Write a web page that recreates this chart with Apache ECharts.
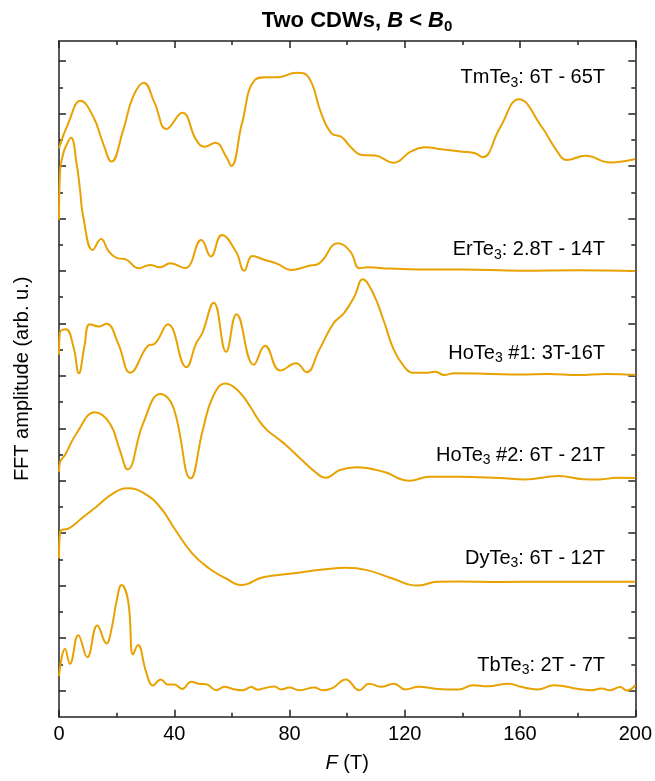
<!DOCTYPE html>
<html><head><meta charset="utf-8">
<script src="https://cdn.jsdelivr.net/npm/echarts@6/dist/echarts.min.js"></script>
<style>html,body{margin:0;padding:0;background:#fff}#c{width:655px;height:781px}</style>
</head><body><div id="c"></div>
<script>
// Frequency F (T) and FFT amplitude (arb. u., relative to each curve's own baseline)
const TmTe3 = [[0,0.68],[3.2,1.63],[7.5,2.49],[11.9,1.88],[15.3,0.87],[18.2,0.17],[22.3,1.38],[25.7,2.65],[29.4,3.18],[33.2,2.40],[37.3,1.41],[42.8,2.03],[47.6,1.0],[50.5,0.74],[54.3,0.89],[58,0.36],[59.8,0.0],[63.5,1.63],[67.9,3.28],[72.2,3.39],[76.2,3.39],[82.3,3.56],[86.6,3.39],[91,2.01],[94.6,1.25],[98.2,1.10],[101.1,0.74],[105.1,0.42],[109.7,0.40],[116.2,0.13],[122,0.55],[127.1,0.72],[132.8,0.64],[140.1,0.55],[144.4,0.49],[147,0.34],[153,1.45],[159.6,2.55],[167.5,1.50],[172.6,0.61],[176.2,0.23],[182.7,0.39],[191.3,0.14],[200,0.27]];
const ErTe3 = [[0,1.95],[0.4,3.85],[1.5,4.49],[2.1,4.68],[4.15,5.08],[6.1,4.1],[7.3,3.09],[8.4,2.07],[11.7,0.80],[14.6,1.22],[17.3,0.74],[20.5,0.48],[23,0.45],[27.6,0.10],[31.6,0.23],[35,0.14],[38.6,0.29],[43.8,0.11],[49.4,1.18],[52.7,0.55],[56.5,1.37],[61.4,0.74],[64.3,0.01],[67.1,0.57],[71.5,0.42],[75.8,0.27],[80.4,0.04],[86.6,0.19],[90.3,0.29],[96.8,1.06],[101.1,0.74],[104.3,0.10],[107,0.14],[115,0.09],[125,0.06],[140,0.06],[160,0.01],[180,0.03],[200,0.0]];
const HoTe3_1 = [[0,0.80],[0.3,1.65],[2.4,1.78],[5,1.11],[6.9,0.10],[8.8,1.11],[10.7,1.97],[13.9,1.88],[16.5,1.99],[20.5,1.24],[24.8,0.12],[30.9,1.15],[33.2,1.22],[37.8,1.97],[44.2,0.33],[47.6,1.24],[49.7,1.62],[53.7,2.79],[58,0.92],[61.6,2.35],[67.6,0.42],[71.5,1.15],[76.8,0.20],[82.3,0.48],[85.9,0.14],[90.3,0.99],[95.3,2.01],[98.9,2.39],[102.5,3.02],[105.4,3.68],[109,3.15],[112.6,2.13],[116.2,0.99],[119.8,0.35],[122.7,0.12],[127.1,0.12],[130.7,0.16],[133.6,0.03],[137.2,0.10],[150,0.07],[160,0.05],[170,0.07],[180,0.03],[190,0.07],[200,0.03]];
const HoTe3_2 = [[0,0.34],[0.4,0.72],[2.1,0.98],[6.1,1.81],[12.5,2.61],[17.6,2.19],[21.1,1.17],[23.8,0.43],[29.2,2.19],[35.2,3.31],[39.6,2.82],[45.7,0.09],[49.9,1.93],[53.4,3.20],[57.8,3.71],[60.6,3.58],[63.5,3.27],[66.4,2.82],[69.3,2.31],[72.2,1.93],[75.8,1.62],[79.4,1.30],[83.7,0.85],[89.5,0.28],[92.4,0.11],[97.5,0.41],[103.2,0.51],[112.6,0.34],[121.7,0.0],[128.5,0.15],[138.6,0.15],[153,0.10],[161.7,0.05],[173.3,0.18],[182,0.06],[187.7,0.05],[193.5,0.11],[200,0.10]];
const DyTe3 = [[0,1.04],[0.4,2.06],[3.6,2.19],[7.9,2.57],[13,3.01],[18.8,3.52],[23.8,3.71],[29.6,3.52],[35.4,2.95],[40.4,2.12],[46.2,1.23],[52,0.66],[57.8,0.28],[63.3,0.02],[70.8,0.32],[80.9,0.46],[92.4,0.62],[99.6,0.68],[106.9,0.59],[115.5,0.28],[124.2,0.0],[131.4,0.15],[138.6,0.16],[153,0.14],[167.5,0.15],[200,0.15]];
const TbTe3 = [[0,0.55],[2.1,1.59],[3.8,1.02],[6.7,2.11],[9.8,1.27],[13.3,2.48],[16.5,1.79],[18.2,2.33],[20,3.41],[21.7,4.02],[24,3.41],[25.7,1.37],[27.4,1.73],[30.3,0.68],[32.6,0.19],[35.3,0.42],[37.8,0.23],[40.1,0.23],[42.7,0.06],[45.9,0.33],[48.8,0.25],[51.1,0.24],[54.6,0.01],[57.4,0.14],[60.3,0.06],[63.8,0.01],[66.7,0.13],[69,0.03],[71.3,0.09],[74.7,0.15],[77.1,0.04],[79.9,0.11],[83.4,0.01],[88.6,0.11],[91.5,0.01],[94.9,0.09],[99.5,0.42],[104.2,0.01],[107.6,0.26],[111.7,0.14],[116.3,0.26],[120.1,0.04],[124.9,0.14],[131.4,0.06],[138.6,0.04],[143.7,0.20],[148.7,0.16],[156,0.26],[160.3,0.14],[166.1,0.04],[171.8,0.20],[180.3,0.06],[184.9,0.01],[188.3,0.08],[191.2,0.01],[194.7,0.13],[197,0.0],[200,0.20]];

const curves = [TmTe3, ErTe3, HoTe3_1, HoTe3_2, DyTe3, TbTe3];
const offsets = [21, 17, 13, 9, 5, 1];
const labelTexts = ['TmTe{s|3}: 6T - 65T','ErTe{s|3}: 2.8T - 14T','HoTe{s|3} #1: 3T-16T','HoTe{s|3} #2: 6T - 21T','DyTe{s|3}: 6T - 12T','TbTe{s|3}: 2T - 7T'];
const labelX = [189.5, 189.5, 189.5, 189.5, 189.5, 189.5];
const labelY = [24.36, 17.80, 13.86, 9.98, 6.04, 1.97];

const Y_MAX = 25.77;
const majorY = [], minorY = [];
for (let v = 1; v <= 25; v += 2) majorY.push(v);
for (let v = 2; v <= 24; v += 2) minorY.push(v);

const FONT = 'Arial, "Liberation Sans", sans-serif';
const COLOR = '#E8A202';
const AX = '#222';

const chart = echarts.init(document.getElementById('c'), null, {renderer: 'canvas'});

function yAx(pos, ticks, len, line) {
  return {
    type: 'value', min: 0, max: Y_MAX, position: pos,
    axisLine: {show: line, onZero: false, lineStyle: {color: AX, width: 1.5}},
    axisTick: {show: true, inside: true, length: len, customValues: ticks, lineStyle: {color: AX, width: 1.5}},
    axisLabel: {show: false}, splitLine: {show: false}
  };
}
function xAx(pos, labels) {
  return {
    type: 'value', min: 0, max: 200, interval: 40, position: pos,
    axisLine: {show: true, onZero: false, lineStyle: {color: AX, width: 1.5}},
    axisTick: {show: true, inside: true, length: 7, lineStyle: {color: AX, width: 1.5}},
    minorTick: {show: true, splitNumber: 2, length: 4, lineStyle: {color: AX, width: 1.5}},
    axisLabel: {show: labels, color: '#000', fontSize: 20, fontFamily: FONT, margin: 8},
    splitLine: {show: false}, minorSplitLine: {show: false},
    name: labels ? '{i|F} (T)' : '', nameLocation: 'middle', nameGap: 37,
    nameTextStyle: {color: '#000', fontSize: 20, fontFamily: FONT,
      rich: {i: {fontStyle: 'italic', fontSize: 20, fontFamily: FONT, color: '#000'}}}
  };
}

const series = curves.map((c, k) => ({
  type: 'line', xAxisIndex: 0, yAxisIndex: 0,
  data: c.map(p => [p[0], p[1] + offsets[k]]),
  smooth: 0.45, showSymbol: false, symbol: 'none', clip: true,
  lineStyle: {color: COLOR, width: 2}, silent: true, animation: false, z: 3
}));
series.push({
  type: 'scatter', xAxisIndex: 0, yAxisIndex: 0, symbolSize: 0, silent: true, animation: false,
  itemStyle: {opacity: 1},
  data: labelTexts.map((t, i) => ({value: [labelX[i], labelY[i]], text: t})),
  label: {show: true, position: 'left', distance: 0, formatter: p => p.data.text, opacity: 1,
    color: '#000', fontSize: 20, fontFamily: FONT,
    rich: {s: {fontSize: 14, fontFamily: FONT, color: '#000', padding: [10, 0, 0, 0]}}}
});

chart.setOption({
  backgroundColor: '#fff',
  animation: false,
  title: {
    text: '{b|Two CDWs, }{bi|B}{b| < }{bi|B}{sub|0}',
    left: 352, top: 3, textAlign: 'center',
    textStyle: {rich: {
      b: {fontWeight: 'bold', fontSize: 22, fontFamily: FONT, color: '#000'},
      bi: {fontWeight: 'bold', fontStyle: 'italic', fontSize: 22, fontFamily: FONT, color: '#000'},
      sub: {fontWeight: 'bold', fontSize: 15, fontFamily: FONT, color: '#000', padding: [11, 0, 0, 0]}
    }}
  },
  grid: {left: 59, right: 17.7, top: 41, bottom: 64.3, containLabel: false},
  xAxis: [xAx('bottom', true), xAx('top', false)],
  yAxis: [
    Object.assign(yAx('left', majorY, 7, true), {name: 'FFT amplitude (arb. u.)', nameLocation: 'middle', nameGap: 27,
      nameTextStyle: {color: '#000', fontSize: 20, fontFamily: FONT}}),
    yAx('left', minorY, 4, false),
    yAx('right', majorY, 7, true),
    yAx('right', minorY, 4, false)
  ],
  series: series
});
</script></body></html>
